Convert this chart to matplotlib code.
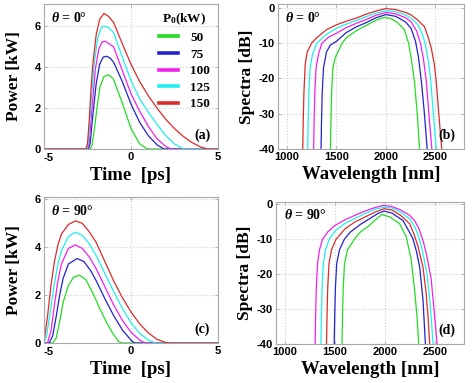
import matplotlib
matplotlib.use('Agg')
import matplotlib.pyplot as plt
from matplotlib.font_manager import FontProperties
from matplotlib.transforms import ScaledTranslation

plt.rcParams['axes.unicode_minus'] = False
plt.rcParams['mathtext.fontset'] = 'custom'
plt.rcParams['mathtext.rm'] = 'Liberation Serif:bold'
plt.rcParams['mathtext.it'] = 'Liberation Serif:bold:italic'
plt.rcParams['mathtext.bf'] = 'Liberation Serif:bold'

# ---------------- data ----------------
p0_labels = ['50', '75', '100', '125', '150']
colors_ab = ['#22dd22', '#2222cc', '#ee22ee', '#22eeee', '#dd2a2a']
colors_d = ['#22dd22', '#2222cc', '#dd2a2a', '#22eeee', '#ee22ee']

# (a) theta = 0 deg, temporal power [kW] vs time [ps]
ta_50 = [-5, -2.35, -2.25, -2.1, -1.97, -1.78, -1.55, -1.3, -1.1, -1.0, -0.5, 0.0, 0.5, 0.9, 1.1, 5]
pa_50 = [0, 0, 0.15, 1.0, 1.92, 3.06, 3.55, 3.64, 3.5, 3.4, 2.25, 1.0, 0.25, 0.02, 0, 0]
ta_75 = [-5, -2.45, -2.35, -2.2, -2.0, -1.8, -1.6, -1.4, -1.2, -1.0, -0.5, 0.0, 0.5, 1.0, 1.5, 1.9, 5]
pa_75 = [0, 0, 0.25, 1.6, 3.2, 4.15, 4.5, 4.54, 4.45, 4.25, 3.3, 2.2, 1.3, 0.65, 0.2, 0, 0]
ta_100 = [-5, -2.5, -2.4, -2.25, -2.05, -1.85, -1.65, -1.5, -1.25, -1.0, -0.5, 0.0, 0.5, 1.0, 1.5, 2.0, 2.3, 5]
pa_100 = [0, 0, 0.3, 1.9, 3.9, 4.9, 5.25, 5.28, 5.15, 5.0, 3.85, 2.7, 1.85, 1.1, 0.5, 0.12, 0, 0]
ta_125 = [-5, -2.55, -2.45, -2.3, -2.1, -1.9, -1.7, -1.55, -1.3, -1.0, -0.5, 0.0, 0.5, 1.0, 1.5, 2.0, 2.5, 2.9, 3.1, 5]
pa_125 = [0, 0, 0.3, 2.2, 4.3, 5.5, 5.95, 6.02, 5.95, 5.7, 4.5, 3.35, 2.45, 1.8, 1.2, 0.65, 0.25, 0.05, 0, 0]
ta_150 = [-5, -2.6, -2.5, -2.4, -2.3, -2.2, -2.0, -1.8, -1.55, -1.3, -1.0, -0.5, 0.0, 0.5, 1.0, 1.5, 2.0, 2.5, 3.0, 3.5, 4.0, 4.4, 5]
pa_150 = [0, 0, 0.25, 1.4, 2.9, 4.1, 5.6, 6.35, 6.64, 6.5, 6.2, 5.15, 4.15, 3.3, 2.6, 2.0, 1.45, 1.0, 0.62, 0.32, 0.1, 0, 0]

# (b) theta = 0 deg, spectra [dB] vs wavelength [nm]
lb_50 = [1440, 1445, 1452, 1465, 1490, 1558, 1600, 1700, 1800, 1900, 1980, 2050, 2120, 2187, 2230, 2255, 2290, 2320, 2340]
sb_50 = [-40, -32, -24, -17, -14, -10, -8.5, -6.5, -5.0, -3.5, -2.7, -3.0, -4.2, -6.2, -10, -14, -21, -31, -40]
lb_75 = [1345, 1350, 1357, 1370, 1400, 1440, 1500, 1600, 1700, 1800, 1900, 2000, 2100, 2200, 2255, 2300, 2330, 2360, 2390, 2418]
sb_75 = [-40, -32, -24, -17, -12.5, -10.5, -9.5, -7.0, -5.4, -4.2, -2.8, -1.9, -2.4, -4.0, -5.8, -9.5, -14, -21, -30, -40]
lb_100 = [1270, 1275, 1282, 1295, 1320, 1354, 1420, 1500, 1600, 1700, 1800, 1900, 2000, 2100, 2200, 2255, 2310, 2350, 2380, 2410, 2435, 2465]
sb_100 = [-40, -32, -24, -17, -13, -10, -8.3, -7.2, -5.6, -4.4, -3.3, -2.1, -1.3, -1.7, -2.8, -3.9, -6.5, -10, -14.5, -21, -30, -40]
lb_125 = [1210, 1215, 1222, 1235, 1260, 1303, 1400, 1500, 1600, 1700, 1800, 1900, 2000, 2100, 2200, 2255, 2320, 2370, 2400, 2430, 2455, 2480, 2510]
sb_125 = [-40, -32, -24, -17, -13, -10, -7.5, -5.8, -4.6, -3.6, -2.5, -1.5, -0.8, -1.1, -2.0, -2.9, -4.6, -7.5, -10.5, -15, -21, -30, -40]
lb_150 = [1160, 1165, 1172, 1185, 1205, 1250, 1300, 1400, 1500, 1600, 1700, 1800, 1900, 2000, 2100, 2200, 2255, 2320, 2390, 2430, 2460, 2490, 2510, 2535, 2565]
sb_150 = [-40, -32, -24, -16, -12.5, -10, -8.5, -6.2, -4.8, -3.8, -2.9, -1.8, -0.9, -0.2, -0.5, -1.3, -2.0, -3.4, -5.3, -8.5, -11.5, -16, -21, -30, -40]

# (c) theta = 90 deg
tc_50 = [-5, -4.5, -4.3, -4.1, -3.9, -3.6, -3.3, -2.95, -2.6, -2.2, -1.8, -1.4, -1.0, -0.7, -0.5, 5]
pc_50 = [0, 0, 0.2, 0.9, 1.7, 2.4, 2.75, 2.83, 2.65, 2.1, 1.45, 0.85, 0.35, 0.05, 0, 0]
tc_75 = [-5, -4.7, -4.5, -4.3, -4.1, -3.9, -3.6, -3.1, -2.7, -2.3, -2.0, -1.5, -1.0, -0.5, 0.0, 0.2, 5]
pc_75 = [0, 0, 0.3, 1.1, 2.0, 2.7, 3.3, 3.53, 3.4, 3.0, 2.6, 1.85, 1.15, 0.55, 0.12, 0, 0]
tc_100 = [-5, -4.8, -4.6, -4.4, -4.2, -4.0, -3.6, -3.2, -2.8, -2.4, -2.0, -1.5, -1.0, -0.5, 0.0, 0.5, 0.8, 5]
pc_100 = [0, 0, 0.5, 1.6, 2.6, 3.3, 3.95, 4.1, 3.95, 3.6, 3.1, 2.35, 1.6, 0.95, 0.45, 0.12, 0, 0]
tc_125 = [-5, -4.85, -4.6, -4.4, -4.2, -4.0, -3.6, -3.2, -2.8, -2.4, -2.0, -1.5, -1.0, -0.5, 0.0, 0.5, 1.0, 1.4, 5]
pc_125 = [0, 0.3, 1.5, 2.5, 3.3, 3.85, 4.45, 4.63, 4.5, 4.15, 3.65, 2.9, 2.15, 1.45, 0.85, 0.4, 0.12, 0, 0]
tc_150 = [-5, -4.8, -4.6, -4.4, -4.2, -4.0, -3.6, -3.2, -2.8, -2.4, -2.0, -1.5, -1.0, -0.5, 0.0, 0.5, 1.0, 1.5, 2.0, 2.2, 5]
pc_150 = [0.05, 1.1, 2.4, 3.4, 4.1, 4.55, 4.95, 5.1, 5.0, 4.65, 4.2, 3.4, 2.6, 1.9, 1.3, 0.8, 0.42, 0.15, 0.02, 0, 0]

# (d) theta = 90 deg
ld_50 = [1570, 1575, 1582, 1595, 1625, 1693, 1750, 1844, 1900, 1970, 2050, 2146, 2213, 2263, 2296, 2320, 2337]
sd_50 = [-40, -32, -24, -17, -13, -10, -8, -6, -4.5, -2.9, -3.6, -5.5, -9.3, -16, -24.6, -32, -40]
ld_75 = [1492, 1497, 1504, 1517, 1545, 1593, 1650, 1750, 1850, 1930, 1990, 2070, 2179, 2246, 2279, 2315, 2347, 2380, 2404]
sd_75 = [-40, -32, -24, -17, -13, -10, -8, -5.8, -4.0, -2.6, -1.9, -2.5, -4.6, -8.0, -9.8, -13.5, -18, -27.4, -40]
ld_100 = [1415, 1420, 1427, 1440, 1465, 1510, 1600, 1700, 1800, 1900, 1990, 2070, 2160, 2246, 2290, 2330, 2380, 2410, 2430, 2447]
sd_100 = [-40, -32, -24, -17, -13, -10, -7.0, -5.0, -3.6, -2.2, -1.25, -1.6, -3.2, -5.5, -8.5, -12, -18, -25, -32, -40]
ld_125 = [1359, 1364, 1371, 1383, 1405, 1442, 1500, 1600, 1700, 1800, 1900, 1990, 2070, 2160, 2246, 2300, 2340, 2380, 2420, 2450, 2481]
sd_125 = [-40, -32, -24, -17, -13, -10, -7.6, -5.4, -4.0, -2.6, -1.4, -0.8, -1.0, -2.3, -4.1, -6.5, -9.5, -14, -20, -28, -40]
ld_150 = [1301, 1306, 1313, 1325, 1345, 1375, 1430, 1500, 1600, 1700, 1800, 1900, 1980, 2060, 2150, 2246, 2300, 2340, 2380, 2420, 2460, 2490, 2521]
sd_150 = [-40, -32, -24, -17, -13, -10, -7.8, -6, -4.4, -3.1, -1.9, -0.9, -0.3, -0.5, -1.5, -3.1, -4.8, -7, -10.3, -15, -21, -30, -40]

panel_a = [(ta_50, pa_50), (ta_75, pa_75), (ta_100, pa_100), (ta_125, pa_125), (ta_150, pa_150)]
panel_b = [(lb_50, sb_50), (lb_75, sb_75), (lb_100, sb_100), (lb_125, sb_125), (lb_150, sb_150)]
panel_c = [(tc_50, pc_50), (tc_75, pc_75), (tc_100, pc_100), (tc_125, pc_125), (tc_150, pc_150)]
panel_d = [(ld_50, sd_50), (ld_75, sd_75), (ld_100, sd_100), (ld_125, sd_125), (ld_150, sd_150)]

# ---------------- figure ----------------
W, H = 472, 383
fig = plt.figure(figsize=(W / 100, H / 100), dpi=100)

def rect(l, t, r, b):
    return [l / W, 1 - b / H, (r - l) / W, (b - t) / H]

ax_a = fig.add_axes(rect(44, 4, 218, 149))
ax_b = fig.add_axes(rect(278, 4, 464, 149))
ax_c = fig.add_axes(rect(44, 197, 218, 343))
ax_d = fig.add_axes(rect(276, 202, 464, 344))

tickfont = FontProperties(family='Liberation Sans', weight='bold', size=8)
xlabfont = dict(family='Liberation Serif', weight='bold', size=13.5)
ylabfont = dict(family='Liberation Serif', weight='bold', size=12.5)
spine_col = '#a8a8a8'

def style(ax):
    for s in ax.spines.values():
        s.set_color(spine_col)
        s.set_linewidth(0.8)
    ax.grid(True, color='#cfcfcf', linestyle=':', linewidth=0.8)
    ax.tick_params(direction='in', length=2.5, width=0.6, color=spine_col,
                   top=True, right=True, pad=2)
    for lab in ax.get_xticklabels() + ax.get_yticklabels():
        lab.set_fontproperties(tickfont)

def shift_first_xlabel(ax, dx_px, dy_px):
    lab = ax.get_xticklabels()[0]
    lab.set_transform(lab.get_transform() +
                      ScaledTranslation(dx_px / 100, -dy_px / 100, fig.dpi_scale_trans))

def panel_text(ax, s):
    ax.text(0.955, 0.05, s, transform=ax.transAxes, ha='right', va='bottom',
            family='Liberation Serif', weight='bold', fontsize=10)

def theta_text(ax, s):
    ax.text(0.04, 0.955, s, transform=ax.transAxes, ha='left', va='top',
            family='Liberation Serif', weight='bold', fontsize=10)

# (a)
for (t, p), c, lab in zip(panel_a, colors_ab, p0_labels):
    ax_a.plot(t, p, color=c, lw=0.9, label=lab)
ax_a.set_xlim(-5, 5)
ax_a.set_ylim(0, 7.1)
ax_a.set_xticks([-5, 0, 5])
ax_a.set_yticks([0, 2, 4, 6])
style(ax_a)
shift_first_xlabel(ax_a, 5, 1)
ax_a.set_xlabel('Time  [ps]', labelpad=3, **xlabfont)
ax_a.set_ylabel('Power [kW]', labelpad=9, **ylabfont)
theta_text(ax_a, r'$\theta$ = 0°')
panel_text(ax_a, '(a)')
leg = ax_a.legend(loc='upper right', bbox_to_anchor=(1.0, 1.0), frameon=False,
                  title='P$_0$(kW)', handlelength=1.5, handletextpad=0.9,
                  labelspacing=0.33, borderaxespad=0.3, borderpad=0.3,
                  prop=dict(family='Liberation Serif', weight='bold', size=9.5))
leg.get_title().set_fontproperties(FontProperties(
    family='Liberation Serif', weight='bold', size=9.5))
for h in leg.get_lines():
    h.set_linewidth(2.6)

# (b)
for (l, s), c in zip(panel_b, colors_ab):
    ax_b.plot(l, s, color=c, lw=0.9)
ax_b.set_xlim(910, 2790)
ax_b.set_ylim(-40, 1.1)
ax_b.set_xticks([1000, 1500, 2000, 2500])
ax_b.set_yticks([0, -10, -20, -30, -40])
style(ax_b)
ax_b.set_xlabel('Wavelength [nm]', labelpad=3, **xlabfont)
ax_b.set_ylabel('Spectra [dB]', labelpad=3, **ylabfont)
theta_text(ax_b, r'$\theta$ = 0°')
panel_text(ax_b, '(b)')

# (c)
for (t, p), c in zip(panel_c, colors_ab):
    ax_c.plot(t, p, color=c, lw=0.9)
ax_c.set_xlim(-5, 5)
ax_c.set_ylim(0, 6.1)
ax_c.set_xticks([-5, 0, 5])
ax_c.set_yticks([0, 2, 4, 6])
style(ax_c)
shift_first_xlabel(ax_c, 5, 1)
ax_c.set_xlabel('Time  [ps]', labelpad=3, **xlabfont)
ax_c.set_ylabel('Power [kW]', labelpad=9, **ylabfont)
theta_text(ax_c, r'$\theta$ = 90°')
panel_text(ax_c, '(c)')

# (d)
for (l, s), c in zip(panel_d, colors_d):
    ax_d.plot(l, s, color=c, lw=0.9)
ax_d.set_xlim(910, 2790)
ax_d.set_ylim(-40, 0.7)
ax_d.set_xticks([1000, 1500, 2000, 2500])
ax_d.set_yticks([0, -10, -20, -30, -40])
style(ax_d)
ax_d.set_xlabel('Wavelength [nm]', labelpad=3, **xlabfont)
ax_d.set_ylabel('Spectra [dB]', labelpad=3, **ylabfont)
theta_text(ax_d, r'$\theta$ = 90°')
panel_text(ax_d, '(d)')

fig.savefig('out.png', dpi=100)
